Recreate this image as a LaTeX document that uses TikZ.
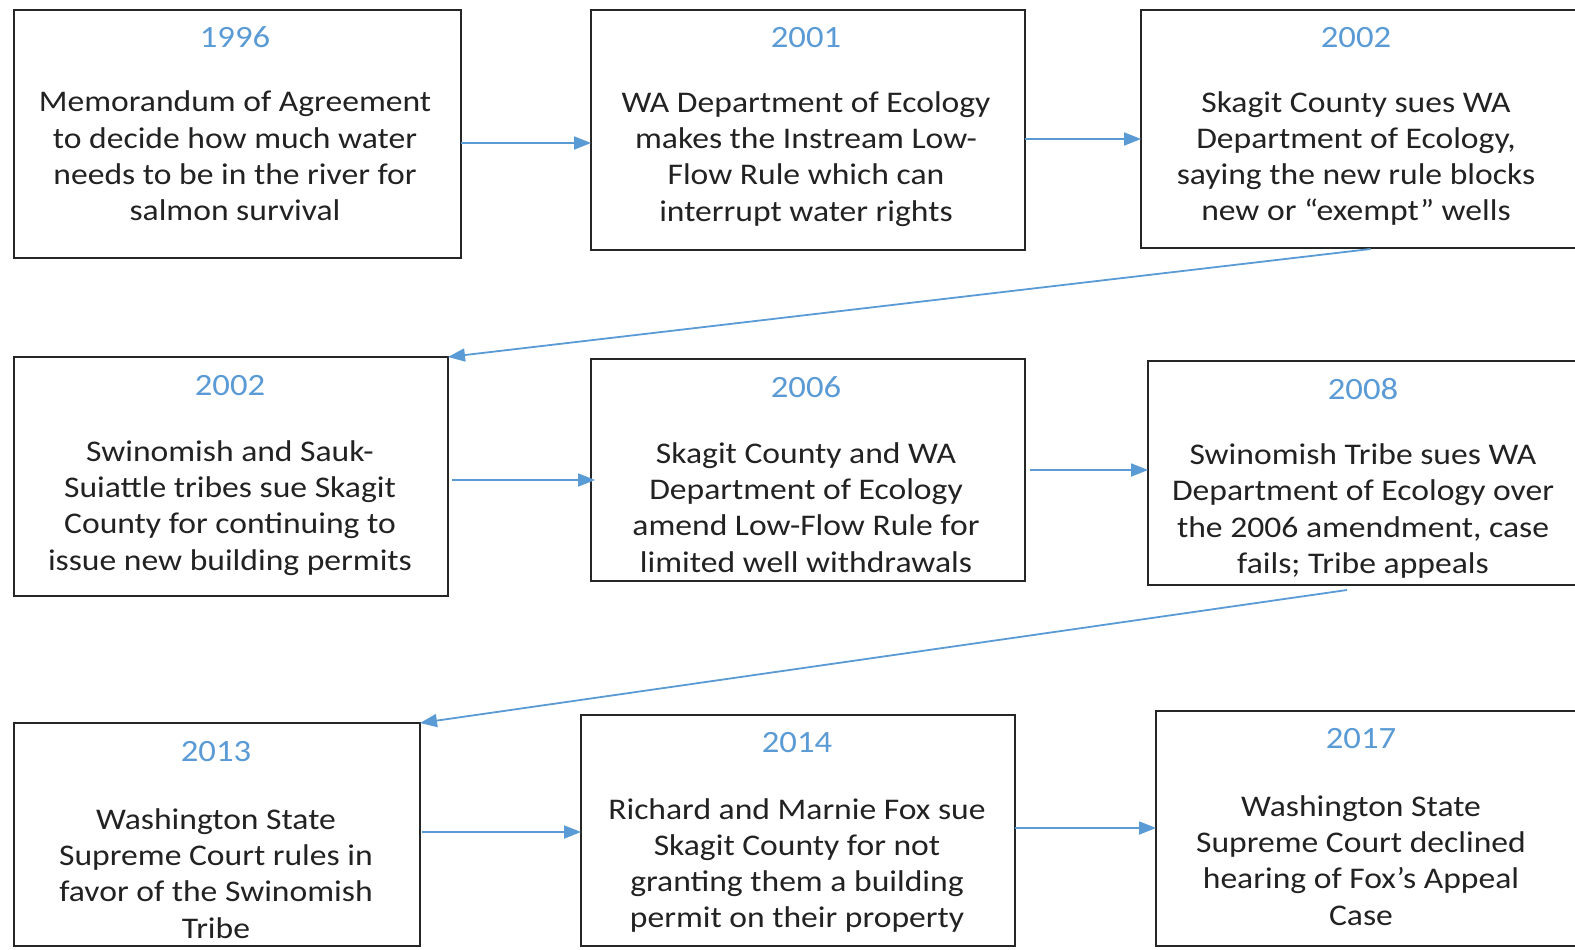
\documentclass[tikz,border=0pt]{standalone}
\usepackage{fontspec}
\setmainfont{Carlito}[FakeStretch=1.12]
\usetikzlibrary{arrows.meta,calc}
\definecolor{yearcol}{HTML}{5B9BD5}
\definecolor{arrcol}{HTML}{5B9BD5}
\definecolor{txtcol}{HTML}{222222}
\definecolor{boxcol}{HTML}{262626}
\tikzset{
  box/.style={draw=boxcol, line width=1.8pt, rectangle, anchor=north west, inner sep=0pt, outer sep=0pt},
  yr/.style={text=yearcol, font=\fontsize{31}{36}\selectfont, inner sep=0pt},
  body/.style={text=txtcol, align=center, font=\fontsize{30}{36.3}\selectfont, inner sep=0pt},
  conn/.style={draw=arrcol, line width=1.8pt, -{Triangle[length=17pt,width=13pt]}}
}
\begin{document}
\begin{tikzpicture}[x=1pt,y=-1pt]
\useasboundingbox (0,0) rectangle (1575,950);
\clip (0,0) rectangle (1575,950);
\fill[white] (0,0) rectangle (1575,950);
% boxes
\node[box, minimum width=447pt, minimum height=248pt] (b1) at (14,10) {};
\node[box, minimum width=434pt, minimum height=240pt] (b2) at (591,10) {};
\node[box, minimum width=439pt, minimum height=238pt] (b3) at (1141,10) {};
\node[box, minimum width=434pt, minimum height=239pt] (b4) at (14,357) {};
\node[box, minimum width=434pt, minimum height=222pt] (b5) at (591,359) {};
\node[box, minimum width=432pt, minimum height=224pt] (b6) at (1148,361) {};
\node[box, minimum width=406pt, minimum height=223pt] (b7) at (14,723) {};
\node[box, minimum width=434pt, minimum height=231pt] (b8) at (581,715) {};
\node[box, minimum width=424pt, minimum height=235pt] (b9) at (1156,711) {};
% years
\node[yr] (y1) at (235,37.5) {1996};
\node[yr] (y2) at (806,37.5) {2001};
\node[yr] (y3) at (1356,37.5) {2002};
\node[yr] (y4) at (230,385.5) {2002};
\node[yr] (y5) at (806,387.5) {2006};
\node[yr] (y6) at (1363,389.5) {2008};
\node[yr] (y7) at (216,751.5) {2013};
\node[yr] (y8) at (797,742.5) {2014};
\node[yr] (y9) at (1361,738.5) {2017};
% bodies
\node[body] (t1) at (235,156) {Memorandum of Agreement\\to decide how much water\\needs to be in the river for\\salmon survival};
\node[body] (t2) at (806,159) {WA Department of Ecology\\makes the Instream Low-\\Flow Rule which can\\interrupt water rights};
\node[body] (t3) at (1356,158.5) {Skagit County sues WA\\Department of Ecology,\\saying the new rule blocks\\new or “exempt” wells};
\node[body] (t4) at (230,508) {Swinomish and Sauk-\\Suiattle tribes sue Skagit\\County for continuing to\\issue new building permits};
\node[body] (t5) at (806,507.5) {Skagit County and WA\\Department of Ecology\\amend Low-Flow Rule for\\limited well withdrawals};
\node[body] (t6) at (1363,511) {Swinomish Tribe sues WA\\Department of Ecology over\\the 2006 amendment, case\\fails; Tribe appeals};
\node[body] (t7) at (216,873.5) {Washington State\\Supreme Court rules in\\favor of the Swinomish\\Tribe};
\node[body] (t8) at (797,865.5) {Richard and Marnie Fox sue\\Skagit County for not\\granting them a building\\permit on their property};
\node[body] (t9) at (1361,860.5) {Washington State\\Supreme Court declined\\hearing of Fox’s Appeal\\Case};
% connector rows
\coordinate (r1) at (0,143);
\coordinate (r2) at (0,139);
\coordinate (r4) at (0,480);
\coordinate (r5) at (0,470);
\coordinate (r7) at (0,832);
\coordinate (r8) at (0,828);
\draw[conn] (b1.east |- r1) -- (b2.west |- r1);
\draw[conn] (b2.east |- r2) -- (b3.west |- r2);
\draw[conn] ($(b3.south)+(10,1)$) -- (b4.north east);
\draw[conn] ($(b4.east |- r4)+(4,0)$) -- ($(b5.west |- r4)+(4,0)$);
\draw[conn] ($(b5.east |- r5)+(5,0)$) -- (b6.west |- r5);
\draw[conn] ($(b6.south)+(-17,5)$) -- (b7.north east);
\draw[conn] ($(b7.east |- r7)+(2,0)$) -- (b8.west |- r7);
\draw[conn] (b8.east |- r8) -- (b9.west |- r8);
\end{tikzpicture}
\end{document}
